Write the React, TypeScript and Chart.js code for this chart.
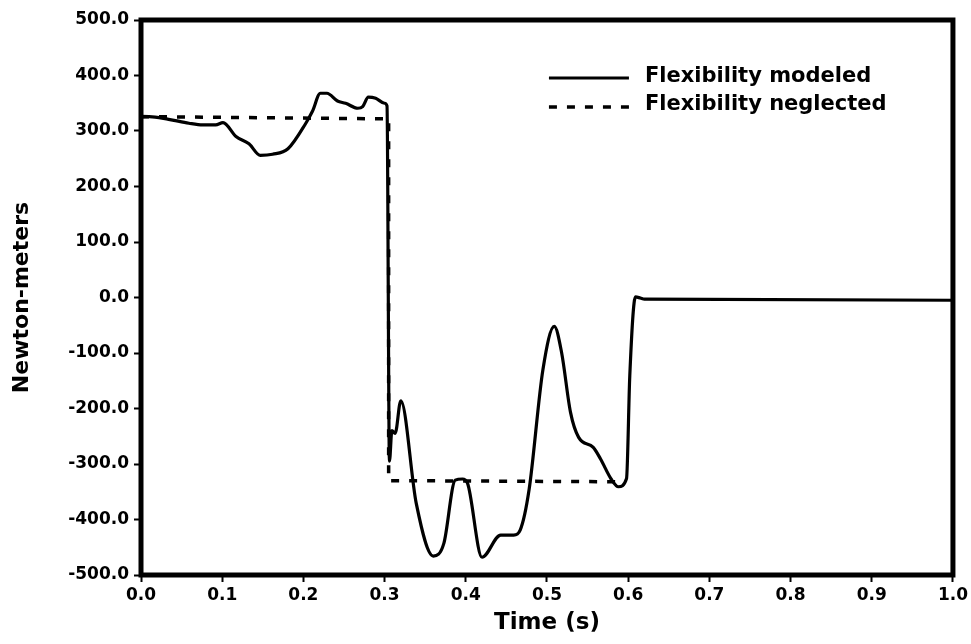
import React, { useEffect, useRef } from 'react';
import { Chart, registerables } from 'chart.js';

Chart.register(...registerables);

// Flexibility modeled (solid)
const modeledTime = [
  0, 0.01, 0.034, 0.059, 0.076, 0.092, 0.101, 0.117, 0.133, 0.147, 0.162, 0.181,
  0.203, 0.211, 0.221, 0.229, 0.242, 0.252, 0.267, 0.273, 0.28, 0.289, 0.3, 0.303,
  0.306, 0.309, 0.313, 0.32, 0.339, 0.36, 0.373, 0.387, 0.396, 0.402, 0.42, 0.443,
  0.459, 0.467, 0.478, 0.495, 0.509, 0.518, 0.529, 0.539, 0.557, 0.566, 0.579, 0.588,
  0.598, 0.602, 0.609, 0.615, 0.62, 1.0,
];
const modeledTorque = [
  325, 326, 321, 314, 311, 311, 315, 290, 277, 256, 258, 268,
  314, 335, 368, 368, 354, 350, 341, 344, 361, 359, 350, 345,
  -295, -240, -245, -186, -371, -466, -443, -329, -327, -334, -468, -428,
  -428, -419, -346, -130, -52, -99, -207, -252, -270, -291, -327, -341,
  -326, -141, 1, -1, -3, -5,
];

// Flexibility neglected (dashed)
const neglectedTime = [0, 0.29, 0.305, 0.305, 0.595];
const neglectedTorque = [326, 322, 322, -330, -332];

const xTickValues = [0, 0.1, 0.2, 0.3, 0.4, 0.5, 0.6, 0.7, 0.8, 0.9, 1.0];
const yTickValues = [-500, -400, -300, -200, -100, 0, 100, 200, 300, 400, 500];

const seriesLabels = ['Flexibility modeled', 'Flexibility neglected'];
const xTitle = 'Time (s)';
const yTitle = 'Newton-meters';

const FONT = '"DejaVu Sans", sans-serif';

const framePlugin = {
  id: 'frame',
  afterDraw(chart: any) {
    const { ctx, chartArea } = chart;
    ctx.save();
    ctx.strokeStyle = '#000';
    ctx.lineWidth = 5;
    ctx.setLineDash([]);
    ctx.strokeRect(chartArea.left, chartArea.top, chartArea.right - chartArea.left, chartArea.bottom - chartArea.top);
    ctx.restore();
  },
};

const legendPlugin = {
  id: 'insideLegend',
  afterDraw(chart: any) {
    const { ctx, chartArea } = chart;
    ctx.save();
    ctx.font = `bold 21px ${FONT}`;
    ctx.fillStyle = '#000';
    ctx.textBaseline = 'alphabetic';
    ctx.textAlign = 'left';
    chart.data.datasets.forEach((ds: any, i: number) => {
      const baseY = chartArea.top + 62 + i * 28;
      const lineY = chartArea.top + 58 + i * 29;
      const x0 = chartArea.right - 404;
      const x1 = chartArea.right - 324;
      ctx.strokeStyle = ds.borderColor;
      ctx.lineWidth = ds.borderWidth;
      ctx.setLineDash(ds.borderDash || []);
      ctx.beginPath();
      ctx.moveTo(x0, lineY);
      ctx.lineTo(x1, lineY);
      ctx.stroke();
      ctx.setLineDash([]);
      ctx.fillText(ds.label, chartArea.right - 308, baseY);
    });
    ctx.restore();
  },
};

export default function App() {
  const canvasRef = useRef<HTMLCanvasElement | null>(null);

  useEffect(() => {
    if (!canvasRef.current) return;
    const chart = new Chart(canvasRef.current, {
      type: 'line',
      data: {
        datasets: [
          {
            label: seriesLabels[0],
            data: modeledTime.map((t, i) => ({ x: t, y: modeledTorque[i] })),
            borderColor: '#000',
            borderWidth: 3.2,
            pointRadius: 0,
            cubicInterpolationMode: 'monotone',
            borderJoinStyle: 'round',
            fill: false,
          },
          {
            label: seriesLabels[1],
            data: neglectedTime.map((t, i) => ({ x: t, y: neglectedTorque[i] })),
            borderColor: '#000',
            borderWidth: 3.5,
            borderDash: [8, 10],
            pointRadius: 0,
            tension: 0,
            fill: false,
          },
        ],
      },
      options: {
        responsive: false,
        animation: false,
        layout: { padding: { left: 0, top: 20, right: 15, bottom: 0 } },
        plugins: {
          legend: { display: false },
          tooltip: { enabled: false },
        },
        scales: {
          x: {
            type: 'linear',
            min: 0,
            max: 1,
            afterBuildTicks: (scale: any) => {
              scale.ticks = xTickValues.map((v) => ({ value: v }));
            },
            afterFit: (scale: any) => {
              scale.height = 69;
            },
            ticks: {
              autoSkip: false,
              maxRotation: 0,
              padding: 3,
              color: '#000',
              font: { family: FONT, size: 17, weight: 'bold' },
              callback: (v: any) => Number(v).toFixed(1),
            },
            grid: {
              display: true,
              drawOnChartArea: false,
              drawTicks: true,
              tickLength: 7,
              tickWidth: 2,
              tickColor: '#000',
              color: '#000',
            },
            border: { display: false },
            title: {
              display: true,
              text: xTitle,
              color: '#000',
              font: { family: FONT, size: 23, weight: 'bold' },
              padding: { top: 0, bottom: 7 },
            },
          },
          y: {
            type: 'linear',
            min: -500,
            max: 500,
            afterBuildTicks: (scale: any) => {
              scale.ticks = yTickValues.map((v) => ({ value: v }));
            },
            afterFit: (scale: any) => {
              scale.width = 141;
            },
            ticks: {
              autoSkip: false,
              padding: 5,
              color: '#000',
              font: { family: FONT, size: 17, weight: 'bold' },
              callback: (v: any) => Number(v).toFixed(1),
            },
            grid: {
              display: true,
              drawOnChartArea: false,
              drawTicks: true,
              tickLength: 7,
              tickWidth: 2,
              tickColor: '#000',
              color: '#000',
            },
            border: { display: false },
            title: {
              display: true,
              text: yTitle,
              color: '#000',
              font: { family: FONT, size: 22, weight: 'bold' },
              padding: { top: 9, bottom: 0 },
            },
          },
        },
      },
      plugins: [framePlugin, legendPlugin],
    } as any);
    return () => chart.destroy();
  }, []);

  return (
    <div style={{ position: 'fixed', left: 0, top: 0, width: 971, height: 644, background: '#fff' }}>
      <canvas ref={canvasRef} width={971} height={644} style={{ display: 'block' }} />
    </div>
  );
}
